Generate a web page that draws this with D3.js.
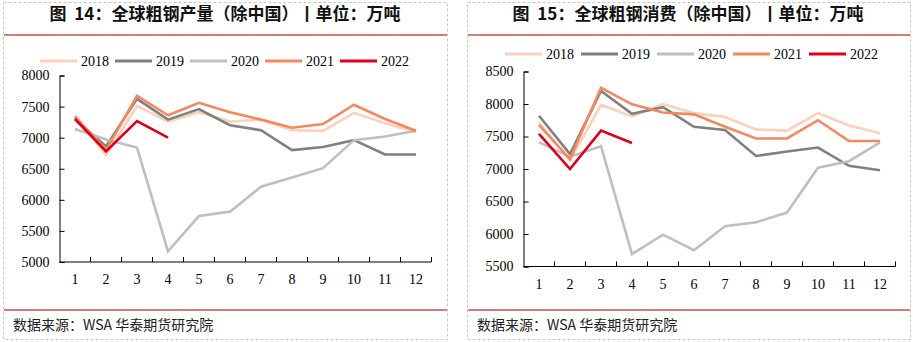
<!DOCTYPE html>
<html>
<head>
<meta charset="utf-8">
<script src="https://cdn.jsdelivr.net/npm/d3@7"></script>
<style>
  body { margin: 0; background: #fff; }
  svg { display: block; }
</style>
</head>
<body>
<script>
// months on the x axis
var months = [1, 2, 3, 4, 5, 6, 7, 8, 9, 10, 11, 12];
var years = ["2018", "2019", "2020", "2021", "2022"];
var yearColors = ["#fdd0b9", "#808080", "#bfbfbf", "#f7875f", "#e0001a"];

// world crude steel output ex-China, 10k tonnes
var prod2018 = [7360, 6720, 7510, 7260, 7410, 7260, 7290, 7120, 7110, 7400, 7230, 7090];
var prod2019 = [7300, 6860, 7625, 7290, 7460, 7200, 7120, 6800, 6850, 6960, 6730, 6730];
var prod2020 = [7140, 6970, 6840, 5170, 5740, 5810, 6210, 6360, 6510, 6960, 7020, 7110];
var prod2021 = [7340, 6800, 7675, 7360, 7560, 7410, 7290, 7160, 7220, 7530, 7300, 7110];
var prod2022 = [7300, 6780, 7265, 7000];
var prodTicks = [5000, 5500, 6000, 6500, 7000, 7500, 8000];

// world crude steel consumption ex-China, 10k tonnes
var cons2018 = [7720, 7130, 7985, 7810, 8000, 7860, 7800, 7610, 7590, 7860, 7670, 7550];
var cons2019 = [7820, 7230, 8200, 7850, 7950, 7650, 7600, 7200, 7270, 7330, 7050, 6980];
var cons2020 = [7410, 7190, 7350, 5690, 5990, 5750, 6120, 6180, 6330, 7020, 7120, 7410];
var cons2021 = [7680, 7150, 8250, 7995, 7870, 7840, 7650, 7470, 7470, 7750, 7430, 7430];
var cons2022 = [7540, 7000, 7590, 7400];
var consTicks = [5500, 6000, 6500, 7000, 7500, 8000, 8500];

var width = 913, height = 342;
var svg = d3.select("body").append("svg")
    .attr("width", width)
    .attr("height", height);

var serif = "'Liberation Serif', 'Times New Roman', serif";
var cjk = "'Noto Sans CJK SC', sans-serif";

function panel(opt) {
  var g = svg.append("g");

  // dashed frame
  g.append("rect")
      .attr("x", opt.x0 + 0.5).attr("y", 2.5)
      .attr("width", opt.x1 - opt.x0).attr("height", 337)
      .attr("fill", "none")
      .attr("stroke", "#c8c8c8")
      .attr("stroke-dasharray", "3,2");

  // red rules under title and above source
  [35, 310].forEach(function(y) {
    g.append("line")
        .attr("x1", opt.x0 + 1).attr("x2", opt.x1)
        .attr("y1", y).attr("y2", y)
        .attr("stroke", "#c0504d").attr("stroke-width", 1.3);
  });

  g.append("text")
      .attr("x", opt.titleX).attr("y", 20)
      .attr("text-anchor", "middle")
      .attr("font-family", cjk).attr("font-weight", "bold")
      .attr("font-size", 17).attr("fill", "#111")
      .attr("xml:space", "preserve")
      .text(opt.title);

  g.append("text")
      .attr("x", opt.x0 + 10).attr("y", 330)
      .attr("font-family", cjk).attr("font-size", 14).attr("fill", "#222")
      .text("数据来源：WSA 华泰期货研究院");

  var x = d3.scaleBand().domain(months).range([opt.left, opt.right]);
  var y = d3.scaleLinear().domain(opt.domain).range([opt.bottom, opt.top]);

  // y axis, ticks pointing into the plot
  var yAxis = g.append("g")
      .attr("transform", "translate(" + opt.left + ",0)")
      .call(d3.axisLeft(y).tickValues(opt.ticks).tickSize(-5).tickPadding(10).tickFormat(d3.format("d")));

  // x axis: boundary ticks between months, labels centred on bands
  var xAxis = g.append("g")
      .attr("transform", "translate(0," + opt.bottom + ")");
  xAxis.append("line")
      .attr("x1", opt.left).attr("x2", opt.right)
      .attr("stroke", "#000");
  xAxis.selectAll(".tk")
      .data(d3.range(1, months.length + 1))
      .enter().append("line")
      .attr("x1", function(i) { return opt.left + x.step() * i; })
      .attr("x2", function(i) { return opt.left + x.step() * i; })
      .attr("y1", 0).attr("y2", -5)
      .attr("stroke", "#000");
  xAxis.selectAll("text")
      .data(months)
      .enter().append("text")
      .attr("x", function(d) { return x(d) + x.bandwidth() / 2; })
      .attr("y", 22)
      .attr("text-anchor", "middle")
      .text(function(d) { return d; });

  [yAxis, xAxis].forEach(function(a) {
    a.selectAll("text")
        .attr("font-family", serif).attr("font-size", 14).attr("fill", "#000");
    a.select(".domain").attr("stroke", "#000");
    a.selectAll(".tick line").attr("stroke", "#000");
  });

  var line = d3.line()
      .x(function(d, i) { return x(months[i]) + x.bandwidth() / 2; })
      .y(function(d) { return y(d); });

  opt.series.forEach(function(s, i) {
    g.append("path")
        .datum(s)
        .attr("fill", "none")
        .attr("stroke", yearColors[i])
        .attr("stroke-width", 2.6)
        .attr("stroke-linejoin", "miter")
        .attr("d", line);
  });

  // legend
  var lg = g.append("g");
  years.forEach(function(yr, i) {
    var lx = opt.legendX + i * opt.legendStep;
    lg.append("line")
        .attr("x1", lx).attr("x2", lx + 37)
        .attr("y1", opt.legendY).attr("y2", opt.legendY)
        .attr("stroke", yearColors[i]).attr("stroke-width", 3);
    lg.append("text")
        .attr("x", lx + 41).attr("y", opt.legendY + 5)
        .attr("font-family", serif).attr("font-size", 14)
        .text(yr);
  });
}

panel({
  x0: 3, x1: 447,
  title: "图  14：全球粗钢产量（除中国）丨单位：万吨",
  titleX: 225,
  left: 59.5, right: 431.5, top: 75.5, bottom: 262,
  domain: [5000, 8000], ticks: prodTicks,
  series: [prod2018, prod2019, prod2020, prod2021, prod2022],
  legendX: 40, legendStep: 75, legendY: 61
});

panel({
  x0: 467, x1: 910,
  title: "图  15：全球粗钢消费（除中国）丨单位：万吨",
  titleX: 688,
  left: 523.5, right: 895.5, top: 71.5, bottom: 266.5,
  domain: [5500, 8500], ticks: consTicks,
  series: [cons2018, cons2019, cons2020, cons2021, cons2022],
  legendX: 505, legendStep: 76, legendY: 54
});
</script>
</body>
</html>
